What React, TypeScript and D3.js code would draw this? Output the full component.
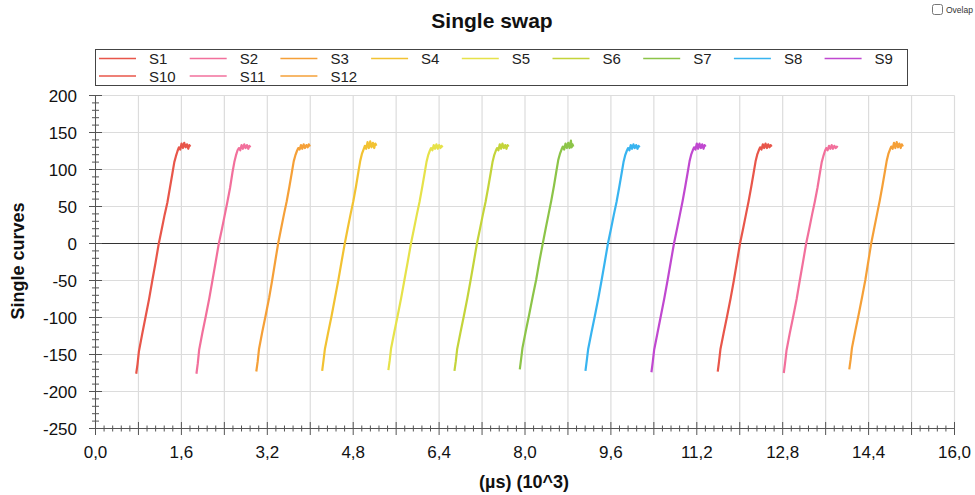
import React from "react";
import * as d3 from "d3";

type Pt = [number, number];

// x in µs, y in curve units
const s1: Pt[] = [[758,-176],[783,-163],[808,-146],[868,-123],[933,-99],[998,-75],[1058,-50],[1118,-26],[1179,0],[1238,21],[1288,39],[1338,55],[1388,76],[1433,95],[1468,110],[1498,118],[1528,125],[1553,130],[1578,127],[1603,135],[1628,129],[1653,136],[1678,130],[1703,134],[1728,128],[1748,133],[1768,131]];
const s2: Pt[] = [[1880,-176],[1905,-162],[1930,-144],[1990,-121],[2055,-98],[2120,-74],[2178,-50],[2238,-25],[2297,0],[2356,20],[2406,38],[2456,56],[2506,75],[2551,96],[2586,110],[2616,119],[2646,126],[2671,129],[2696,126],[2721,133],[2746,128],[2771,134],[2796,129],[2821,133],[2846,128],[2866,132],[2886,130]];
const s3: Pt[] = [[2995,-173],[3020,-160],[3045,-143],[3105,-120],[3170,-97],[3235,-73],[3290,-50],[3348,-24],[3402,0],[3462,22],[3512,40],[3562,57],[3612,77],[3657,96],[3692,111],[3722,119],[3752,125],[3777,129],[3802,127],[3827,133],[3852,128],[3877,134],[3902,129],[3927,133],[3952,130],[3972,134],[3995,131]];
const s4: Pt[] = [[4222,-172],[4247,-158],[4272,-143],[4332,-121],[4397,-98],[4462,-73],[4522,-50],[4582,-25],[4643,0],[4702,22],[4752,40],[4802,57],[4852,77],[4897,97],[4932,112],[4962,121],[4992,127],[5017,132],[5042,128],[5067,137],[5092,129],[5117,138],[5142,130],[5167,136],[5192,129],[5212,135],[5232,132]];
const s5: Pt[] = [[5455,-171],[5480,-158],[5505,-142],[5565,-120],[5630,-97],[5695,-73],[5755,-49],[5815,-25],[5876,0],[5935,21],[5985,39],[6035,56],[6085,76],[6130,95],[6165,110],[6195,119],[6225,125],[6250,129],[6275,126],[6300,133],[6325,128],[6350,134],[6375,128],[6400,133],[6425,129],[6445,132],[6465,130]];
const s6: Pt[] = [[6686,-172],[6711,-159],[6736,-143],[6796,-121],[6861,-98],[6926,-74],[6986,-50],[7046,-25],[7105,0],[7165,21],[7215,39],[7265,56],[7315,76],[7360,95],[7395,110],[7425,119],[7455,125],[7480,129],[7505,126],[7530,134],[7555,128],[7580,135],[7605,129],[7630,133],[7655,128],[7675,133],[7695,131]];
const s7: Pt[] = [[7903,-170],[7928,-156],[7953,-141],[8013,-119],[8078,-96],[8143,-72],[8208,-49],[8268,-24],[8331,0],[8390,22],[8440,40],[8490,58],[8540,78],[8585,98],[8620,113],[8650,121],[8680,127],[8705,131],[8730,127],[8755,135],[8780,129],[8805,136],[8830,129],[8855,139],[8870,130],[8885,134],[8900,131]];
const s8: Pt[] = [[9126,-172],[9151,-158],[9176,-143],[9236,-121],[9301,-98],[9366,-74],[9426,-50],[9486,-25],[9545,0],[9605,21],[9655,39],[9705,56],[9755,76],[9800,95],[9835,110],[9865,119],[9895,125],[9920,129],[9945,126],[9970,133],[9995,128],[10020,134],[10045,129],[10070,133],[10095,128],[10115,132],[10135,130]];
const s9: Pt[] = [[10355,-174],[10380,-160],[10405,-144],[10465,-122],[10530,-98],[10595,-74],[10655,-50],[10715,-25],[10775,0],[10835,21],[10885,39],[10935,57],[10985,77],[11030,96],[11065,111],[11095,120],[11125,126],[11150,130],[11175,127],[11200,135],[11225,128],[11250,135],[11275,129],[11300,134],[11325,128],[11345,133],[11365,131]];
const s10: Pt[] = [[11590,-173],[11615,-159],[11640,-143],[11700,-121],[11765,-98],[11830,-74],[11890,-50],[11948,-25],[12005,0],[12065,21],[12115,39],[12165,57],[12215,77],[12260,96],[12295,111],[12325,120],[12355,126],[12380,130],[12405,127],[12430,134],[12455,129],[12480,135],[12505,129],[12530,134],[12555,130],[12575,133],[12595,131]];
const s11: Pt[] = [[12820,-175],[12845,-161],[12870,-145],[12930,-122],[12995,-99],[13060,-75],[13118,-50],[13178,-25],[13237,0],[13297,21],[13347,39],[13397,56],[13447,75],[13492,95],[13527,110],[13557,118],[13587,125],[13612,129],[13637,126],[13662,132],[13687,128],[13712,133],[13737,128],[13762,132],[13787,129],[13807,131],[13827,130]];
const s12: Pt[] = [[14040,-170],[14065,-157],[14090,-141],[14150,-119],[14215,-96],[14280,-72],[14340,-49],[14395,-24],[14448,0],[14508,22],[14558,40],[14608,58],[14658,78],[14703,97],[14738,112],[14768,121],[14798,127],[14823,131],[14848,128],[14873,136],[14898,129],[14923,137],[14948,130],[14973,135],[14998,129],[15018,134],[15040,131]];

const names = ["S1","S2","S3","S4","S5","S6","S7","S8","S9","S10","S11","S12"];
const colors = ["#e8564a","#f2709c","#f5a038","#f2c232","#e6e24a","#c4d43a","#8cc448","#38b4f0","#c048d0","#e8564a","#f2709c","#f5a038"];
const seriesData = [s1,s2,s3,s4,s5,s6,s7,s8,s9,s10,s11,s12];

const xTickLabels = [0,1600,3200,4800,6400,8000,9600,11200,12800,14400,16000];
const yTickLabels = [200,150,100,50,0,-50,-100,-150,-200,-250];

const W = 975, H = 495;
const FONT = "'Liberation Sans', Arial, sans-serif";

export default function App() {
  const x = d3.scaleLinear().domain([0, 16000]).range([95.5, 954.5]);
  const y = d3.scaleLinear().domain([-250, 200]).range([428.5, 95.5]);
  const line = d3.line<Pt>().x(d => x(d[0])).y(d => y(d[1]));

  const gridX = d3.range(0, 16001, 800);
  const minorX = d3.range(0, 16001, 160);
  const minorY = d3.range(-250, 201, 10);

  return (
    <svg width={W} height={H} style={{ position: "absolute", left: 0, top: 0, background: "#fff" }} fontFamily={FONT}>
      <text x={492} y={28} textAnchor="middle" fontSize={21} fontWeight="bold" fill="#111">Single swap</text>

      {/* overlap checkbox */}
      <rect x={932.5} y={4.5} width={10} height={10} rx={2} fill="#fff" stroke="#777" />
      <text x={946} y={13} fontSize={8.5} fill="#333">Ovelap</text>

      {/* legend */}
      <rect x={95.5} y={49.5} width={812} height={36} fill="#fff" stroke="#444" />
      {names.map((n, i) => {
        const col = i % 9, row = Math.floor(i / 9);
        const lx = 99 + col * 90.7;
        const ly = row === 0 ? 58.5 : 76;
        return (
          <g key={n}>
            <line x1={lx} x2={lx + 37} y1={ly} y2={ly} stroke={colors[i]} strokeWidth={1.3} />
            <text x={lx + 50} y={ly + 5.5} fontSize={15} fill="#222">{n}</text>
          </g>
        );
      })}

      {/* grid */}
      {gridX.map(v => (
        <line key={"gx" + v} x1={x(v)} x2={x(v)} y1={y(200)} y2={y(-250)} stroke="#dcdcdc" strokeWidth={1.2} />
      ))}
      {yTickLabels.map(v => (
        <line key={"gy" + v} x1={x(0)} x2={x(16000)} y1={y(v)} y2={y(v)} stroke="#dcdcdc" strokeWidth={1.2} />
      ))}

      {/* zero line */}
      <line x1={x(0)} x2={x(16000)} y1={y(0)} y2={y(0)} stroke="#333" strokeWidth={1.2} />

      {/* series */}
      {seriesData.map((s, i) => (
        <path key={names[i]} d={line(s) || ""} fill="none" stroke={colors[i]} strokeWidth={2.2} strokeLinejoin="round" />
      ))}

      {/* x axis */}
      <line x1={x(0)} x2={x(16000)} y1={428.5} y2={428.5} stroke="#555" />
      {minorX.map(v => {
        const big = v % 800 === 0;
        return <line key={"tx" + v} x1={x(v)} x2={x(v)} y1={big ? 422 : 425.5} y2={big ? 435 : 431.5} stroke="#555" />;
      })}
      {xTickLabels.map(v => (
        <text key={"lx" + v} x={x(v)} y={458} textAnchor="middle" fontSize={17} fill="#111">
          {(v / 1000).toFixed(1).replace(".", ",")}
        </text>
      ))}
      <text x={524} y={488} textAnchor="middle" fontSize={18} fontWeight="bold" fill="#111">(µs) (10^3)</text>

      {/* y axis */}
      <line x1={95.5} x2={95.5} y1={y(200)} y2={y(-250)} stroke="#555" />
      {minorY.map(v => {
        const big = v % 50 === 0;
        return <line key={"ty" + v} x1={big ? 89 : 92} x2={big ? 102 : 99} y1={y(v)} y2={y(v)} stroke="#555" />;
      })}
      {yTickLabels.map(v => (
        <text key={"ly" + v} x={77} y={y(v) + 6} textAnchor="end" fontSize={17} fill="#111">{v}</text>
      ))}
      <text transform={`translate(24,261) rotate(-90)`} textAnchor="middle" fontSize={18} fontWeight="bold" fill="#111">Single curves</text>
    </svg>
  );
}
